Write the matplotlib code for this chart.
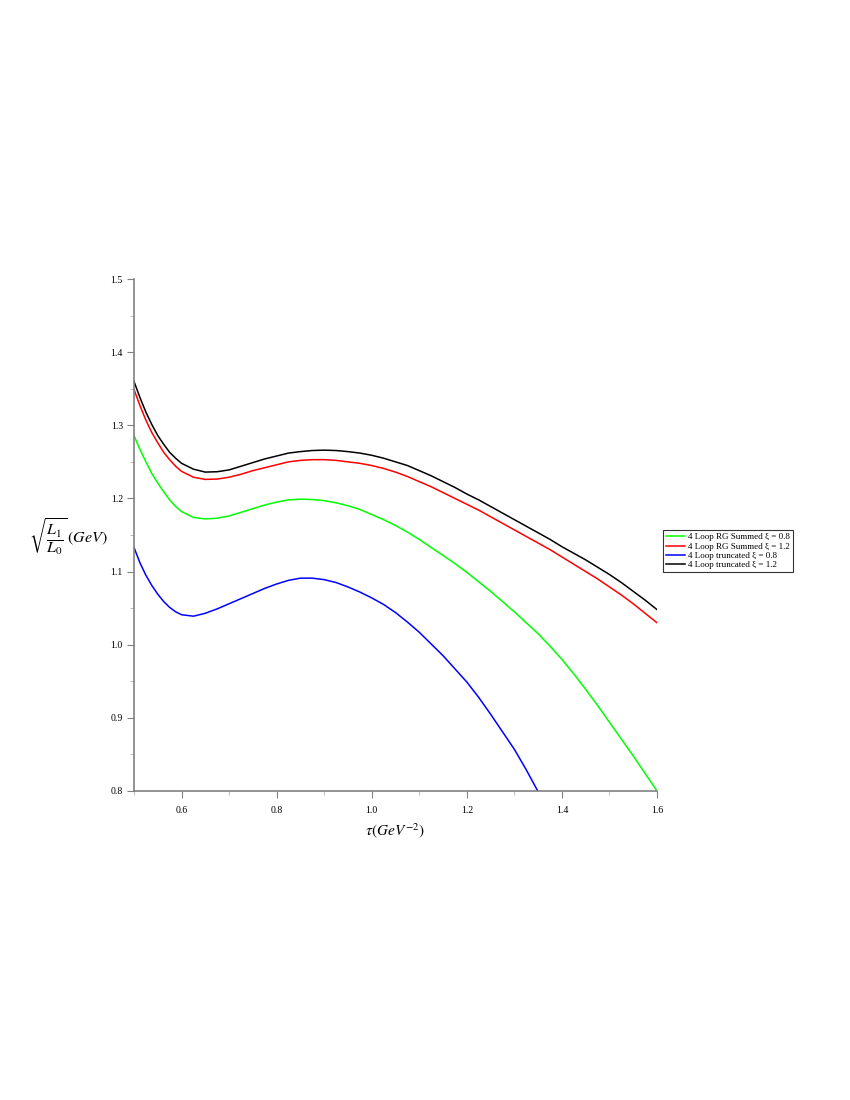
import numpy as np
import matplotlib
matplotlib.use('Agg')
import matplotlib.pyplot as plt
from matplotlib.ticker import MultipleLocator, FormatStrFormatter

plt.rcParams['font.family'] = ['Liberation Serif', 'DejaVu Serif']
plt.rcParams['mathtext.fontset'] = 'stix'

tau = [0.5, 0.5125, 0.525, 0.5375, 0.55, 0.5625, 0.575, 0.5875, 0.6,
       0.625, 0.65, 0.675, 0.7, 0.725, 0.75, 0.775, 0.8, 0.825, 0.85,
       0.875, 0.9, 0.925, 0.95, 0.975, 1.0, 1.025, 1.05, 1.075, 1.1,
       1.125, 1.15, 1.175, 1.2, 1.225, 1.25, 1.275, 1.3, 1.325, 1.35,
       1.375, 1.4, 1.425, 1.45, 1.475, 1.5, 1.525, 1.55, 1.575, 1.6]

rg_summed_08 = [1.286, 1.267, 1.250, 1.234, 1.221, 1.209, 1.198, 1.189, 1.182,
                1.174, 1.172, 1.173, 1.176, 1.181, 1.186, 1.191, 1.195, 1.198, 1.199,
                1.1985, 1.197, 1.194, 1.190, 1.185, 1.178, 1.171, 1.163, 1.154, 1.144,
                1.133, 1.122, 1.111, 1.099, 1.086, 1.073, 1.059, 1.045, 1.030, 1.015,
                0.998, 0.980, 0.960, 0.939, 0.917, 0.894, 0.871, 0.848, 0.824, 0.800]
rg_summed_12 = [1.349, 1.327, 1.307, 1.290, 1.276, 1.263, 1.253, 1.244, 1.237,
                1.229, 1.226, 1.2265, 1.229, 1.233, 1.238, 1.242, 1.246, 1.250, 1.252,
                1.253, 1.253, 1.252, 1.250, 1.248, 1.245, 1.241, 1.236, 1.230, 1.223,
                1.216, 1.208, 1.200, 1.192, 1.184, 1.175, 1.166, 1.157, 1.148, 1.139,
                1.130, 1.120, 1.110, 1.100, 1.090, 1.079, 1.068, 1.056, 1.043, 1.030]
# truncated xi = 0.8 leaves the frame at tau = 1.35
trunc_08 = [1.133, 1.112, 1.095, 1.081, 1.069, 1.059, 1.051, 1.045, 1.041,
            1.039, 1.043, 1.049, 1.056, 1.063, 1.070, 1.077, 1.083, 1.088, 1.091,
            1.091, 1.089, 1.085, 1.079, 1.072, 1.064, 1.055, 1.044, 1.031, 1.017,
            1.001, 0.985, 0.967, 0.949, 0.928, 0.905, 0.881, 0.857, 0.829, 0.799]
trunc_12 = [1.360, 1.338, 1.318, 1.301, 1.286, 1.274, 1.263, 1.255, 1.248,
            1.240, 1.236, 1.2365, 1.239, 1.244, 1.249, 1.254, 1.258, 1.262, 1.264,
            1.2655, 1.266, 1.2655, 1.264, 1.262, 1.259, 1.255, 1.250, 1.245, 1.238,
            1.231, 1.223, 1.215, 1.206, 1.198, 1.189, 1.180, 1.171, 1.162, 1.153,
            1.144, 1.134, 1.125, 1.116, 1.106, 1.096, 1.085, 1.073, 1.061, 1.048]

labels = ['4 Loop RG Summed \u03be = 0.8', '4 Loop RG Summed \u03be = 1.2',
          '4 Loop truncated \u03be = 0.8', '4 Loop truncated \u03be = 1.2']

fig = plt.figure(figsize=(8.5, 11), dpi=100)
ax = fig.add_axes([134/850, 1 - 791/1100, (657 - 134)/850, (791 - 279)/1100])

ax.plot(tau, rg_summed_08, color='#00ff00', lw=1.1, label=labels[0])
ax.plot(tau, rg_summed_12, color='#ff0000', lw=1.1, label=labels[1])
ax.plot(tau[:len(trunc_08)], trunc_08, color='#0000ff', lw=1.1, label=labels[2])
ax.plot(tau, trunc_12, color='#000000', lw=1.1, label=labels[3])

ax.set_xlim(0.5, 1.6)
ax.set_ylim(0.8, 1.5)

for s in ['top', 'right']:
    ax.spines[s].set_visible(False)
for s in ['left', 'bottom']:
    ax.spines[s].set_color('#808080')
    ax.spines[s].set_linewidth(1.2)

ax.xaxis.set_minor_locator(MultipleLocator(0.1))
ax.yaxis.set_major_locator(MultipleLocator(0.1))
ax.yaxis.set_minor_locator(MultipleLocator(0.05))
ax.set_xticks([0.6, 0.8, 1.0, 1.2, 1.4, 1.6])
ax.xaxis.set_major_formatter(FormatStrFormatter('%.1f'))
ax.yaxis.set_major_formatter(FormatStrFormatter('%.1f'))
ax.tick_params(which='major', length=5, color='#808080', labelsize=7)
ax.tick_params(which='minor', length=3, color='#b0b0b0')
ax.tick_params(axis='x', which='major', pad=6)
ax.tick_params(axis='y', which='major', pad=3)

fig.text(68/850, 1 - 537/1100, r'$\sqrt{\dfrac{L_1}{L_0}}\,\left(GeV\right)$',
         ha='center', va='center', fontsize=11.5)
fig.text(395/850, 1 - 831/1100, r'$\tau\left(GeV^{-2}\right)$',
         ha='center', va='center', fontsize=11)

leg = ax.legend(loc='upper left', bbox_to_anchor=(663/850, 1 - 530/1100),
                bbox_transform=fig.transFigure, fontsize=6.5, frameon=True,
                fancybox=False, edgecolor='black', borderpad=0.35,
                labelspacing=0.1, handlelength=2.1, handletextpad=0.35,
                borderaxespad=0)
leg.get_frame().set_linewidth(0.8)

fig.savefig('out.png', dpi=100)
